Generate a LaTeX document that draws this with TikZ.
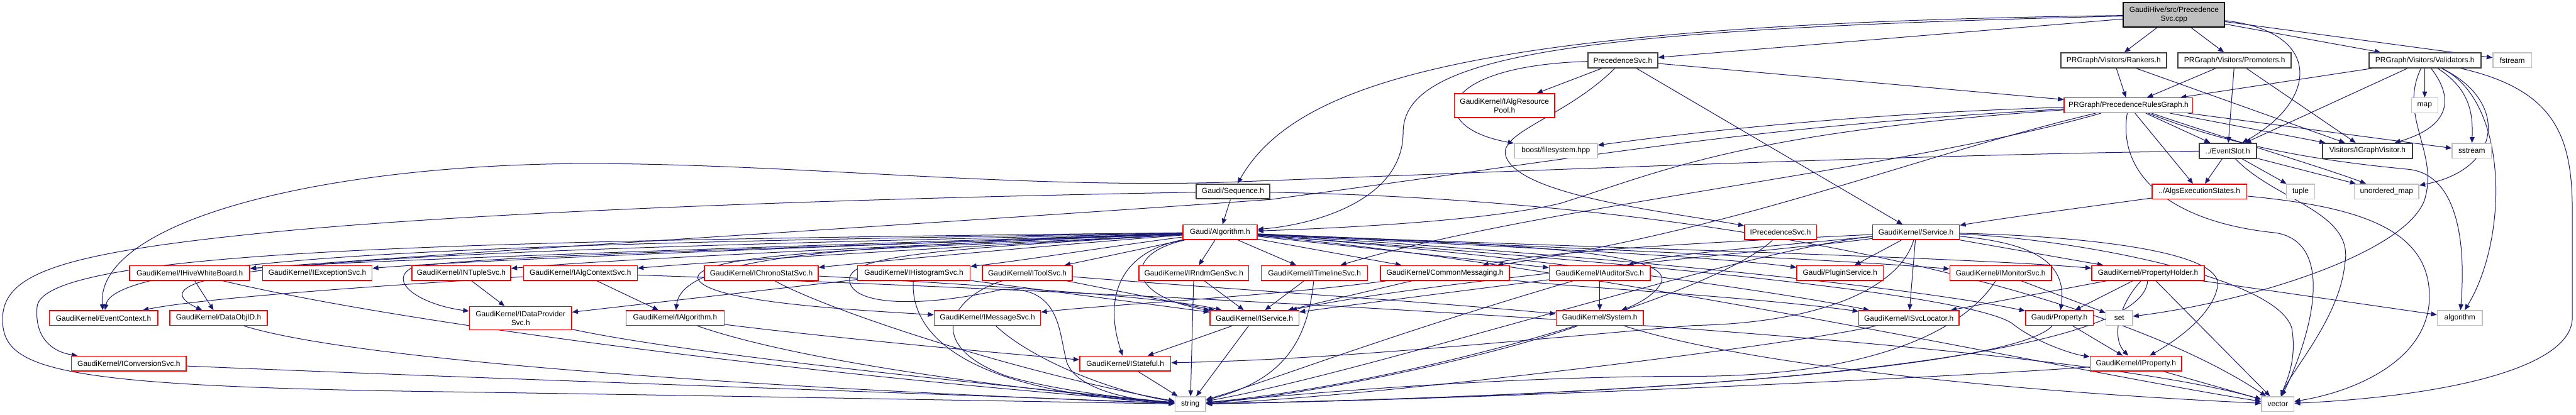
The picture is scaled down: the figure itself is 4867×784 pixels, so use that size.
\documentclass[tikz,border=0pt]{standalone}
\usepackage{fontspec}
\setmainfont{Liberation Sans}
\usetikzlibrary{arrows.meta,backgrounds}
\definecolor{edgec}{HTML}{191970}
\definecolor{redb}{HTML}{FF0000}
\definecolor{grayb}{HTML}{BFBFBF}
\definecolor{blackb}{HTML}{404040}
\definecolor{rootf}{HTML}{BFBFBF}
\newcommand{\nodefont}{\fontsize{7.1pt}{8.4pt}\selectfont}
\begin{document}
\begin{tikzpicture}[x=0.5pt,y=-0.5pt,
  nd/.style={fill=white, line width=0.9pt, minimum height=14pt, inner sep=0pt, align=center, font=\nodefont},
  rbox/.style={nd, draw=redb},
  kbox/.style={nd, draw=blackb, line width=1.2pt},
  gbox/.style={nd, draw=grayb},
  rootbox/.style={nd, draw=black, line width=1.2pt, fill=rootf},
  e/.style={draw=edgec, line width=0.6pt, -{Triangle[length=5.5pt,width=4.5pt]}}]
\useasboundingbox (0,0) rectangle (4867,784);
% ---------------- nodes ----------------
\node[rootbox, minimum width=95.5pt, minimum height=23pt] (root) at (4107.5,28) {GaudiHive/src/Precedence\\Svc.cpp};
\node[kbox, minimum width=66pt] (psvch) at (3066,114) {PrecedenceSvc.h};
\node[kbox, minimum width=99.5pt] (rank) at (3993.5,114) {PRGraph/Visitors/Rankers.h};
\node[kbox, minimum width=107pt] (prom) at (4222,114) {PRGraph/Visitors/Promoters.h};
\node[kbox, minimum width=105.5pt] (valid) at (4581.5,114) {PRGraph/Visitors/Validators.h};
\node[gbox, minimum width=36.5pt] (fstr) at (4746.5,114) {fstream};
\node[rbox, minimum width=94.5pt, minimum height=22.5pt] (iarp) at (2842.5,199.5) {GaudiKernel/IAlgResource\\Pool.h};
\node[rbox, minimum width=121.5pt] (prg) at (4021.5,199) {PRGraph/PrecedenceRulesGraph.h};
\node[gbox, minimum width=25pt] (map) at (4581,199) {map};
\node[gbox, minimum width=78.5pt] (boost) at (2939.5,285) {boost/filesystem.hpp};
\node[kbox, minimum width=54pt] (evs) at (4209,285) {../EventSlot.h};
\node[kbox, minimum width=85pt] (igv) at (4473,285) {Visitors/IGraphVisitor.h};
\node[gbox, minimum width=37pt] (sstr) at (4670,285) {sstream};
\node[kbox, minimum width=69.5pt] (seq) at (2329.5,362) {Gaudi/Sequence.h};
\node[rbox, minimum width=89.5pt] (aes) at (4155.5,362) {../AlgsExecutionStates.h};
\node[gbox, minimum width=26.5pt] (tup) at (4346.5,362) {tuple};
\node[gbox, minimum width=61pt] (umap) at (4509,362) {unordered\_map};
\node[rbox, minimum width=70pt] (alg) at (2305,439) {Gaudi/Algorithm.h};
\node[rbox, minimum width=68pt] (iprec) at (3364,439) {IPrecedenceSvc.h};
\node[rbox, minimum width=82pt] (svc) at (3620,439) {GaudiKernel/Service.h};
\node[rbox, minimum width=113.5pt] (ihwb) at (358.5,516) {GaudiKernel/IHiveWhiteBoard.h};
\node[rbox, minimum width=103.5pt] (iexc) at (599.5,516) {GaudiKernel/IExceptionSvc.h};
\node[rbox, minimum width=93.5pt] (intup) at (871.5,516) {GaudiKernel/INTupleSvc.h};
\node[rbox, minimum width=107.5pt] (iacs) at (1096.5,516) {GaudiKernel/IAlgContextSvc.h};
\node[rbox, minimum width=107.5pt] (icss) at (1438.5,516) {GaudiKernel/IChronoStatSvc.h};
\node[rbox, minimum width=106.5pt] (ihist) at (1726.5,516) {GaudiKernel/IHistogramSvc.h};
\node[rbox, minimum width=85pt] (itool) at (1941,516) {GaudiKernel/IToolSvc.h};
\node[rbox, minimum width=103.5pt] (irndm) at (2255.5,516) {GaudiKernel/IRndmGenSvc.h};
\node[rbox, minimum width=100.5pt] (itl) at (2483.5,516) {GaudiKernel/ITimelineSvc.h};
\node[rbox, minimum width=122pt] (cmsg) at (2730,516) {GaudiKernel/CommonMessaging.h};
\node[rbox, minimum width=95.5pt] (iaud) at (3022.5,516) {GaudiKernel/IAuditorSvc.h};
\node[rbox, minimum width=81.5pt] (plug) at (3476.5,516) {Gaudi/PluginService.h};
\node[rbox, minimum width=96pt] (imon) at (3780,516) {GaudiKernel/IMonitorSvc.h};
\node[rbox, minimum width=106.5pt] (phold) at (4058.5,516) {GaudiKernel/PropertyHolder.h};
\node[rbox, minimum width=102.5pt] (evc) at (195.5,601) {GaudiKernel/EventContext.h};
\node[rbox, minimum width=92pt] (doid) at (413,601) {GaudiKernel/DataObjID.h};
\node[rbox, minimum width=96.5pt, minimum height=22pt] (idps) at (983.5,601) {GaudiKernel/IDataProvider\\Svc.h};
\node[rbox, minimum width=92.5pt] (ialgo) at (1275.5,601) {GaudiKernel/IAlgorithm.h};
\node[rbox, minimum width=100.5pt] (imsg) at (1865.5,601) {GaudiKernel/IMessageSvc.h};
\node[rbox, minimum width=84pt] (isvc) at (2370,601) {GaudiKernel/IService.h};
\node[rbox, minimum width=82.5pt] (sys) at (3022.5,601) {GaudiKernel/System.h};
\node[rbox, minimum width=94.5pt] (isl) at (3606.5,601) {GaudiKernel/ISvcLocator.h};
\node[rbox, minimum width=64pt] (prop) at (3891,601) {Gaudi/Property.h};
\node[gbox, minimum width=25pt] (setn) at (4004,601) {set};
\node[gbox, minimum width=42.5pt] (algo) at (4647.5,601) {algorithm};
\node[rbox, minimum width=108.5pt] (iconv) at (243.5,687) {GaudiKernel/IConversionSvc.h};
\node[rbox, minimum width=86pt] (istat) at (2126,687) {GaudiKernel/IStateful.h};
\node[rbox, minimum width=86.5pt] (iprop) at (4035.5,687) {GaudiKernel/IProperty.h};
\node[gbox, minimum width=29pt] (str) at (2249,763.5) {string};
\node[gbox, minimum width=30.5pt] (vec) at (4303.5,763.5) {vector};
% ---------------- edges ----------------
\begin{scope}[on background layer]
% root
\draw[e] (root) -- (psvch);
\draw[e] (root) .. controls (2800,45) and (2450,150) .. (seq);
\draw[e] (root) .. controls (3000,55) and (2651,100) .. (2651,250) .. controls (2651,380) and (2480,425) .. (alg);
\draw[e] (root) -- (rank);
\draw[e] (root) -- (prom);
\draw[e] (root) .. controls (4390,60) and (4380,190) .. (evs);
\draw[e] (root) -- (valid);
\draw[e] (root) -- (fstr);
% PrecedenceSvc.h
\draw[e] (psvch) -- (prg);
\draw[e] (psvch) -- (iarp);
\draw[e] (psvch) .. controls (2710,125) and (2690,240) .. (boost);
\draw[e] (psvch) .. controls (2960,220) and (2830,250) .. (2845,295) .. controls (2870,370) and (3150,400) .. (iprec);
\draw[e] (psvch) -- (svc);
% Rankers / Promoters
\draw[e] (rank) -- (prg);
\draw[e] (rank) -- (igv);
\draw[e] (prom) -- (prg);
\draw[e] (prom) -- (evs);
\draw[e] (prom) -- (igv);
% Validators
\draw[e] (valid) -- (prg);
\draw[e] (valid) -- (evs);
\draw[e] (valid) -- (map);
\draw[e] (valid) .. controls (4640,190) and (4625,240) .. (igv);
\draw[e] (valid) .. controls (4670,170) and (4672,220) .. (sstr);
\draw[e] (valid) .. controls (4740,190) and (4730,320) .. (umap);
\draw[e] (valid) .. controls (4530,220) and (4610,290) .. (4580,380) .. controls (4540,480) and (4250,570) .. (setn);
\draw[e] (valid) .. controls (4740,190) and (4740,450) .. (algo);
\draw[e] (valid) .. controls (4830,170) and (4860,260) .. (4860,400) -- (4860,600) .. controls (4860,700) and (4600,750) .. (vec);
% PrecedenceRulesGraph.h
\draw[e] (prg) .. controls (3500,215) and (3200,250) .. (boost);
\draw[e] (prg) .. controls (3300,240) and (3050,290) .. (2400,377) .. controls (1800,420) and (900,475) .. (ihwb);
\draw[e] (prg) .. controls (3300,250) and (3150,320) .. (2949,384) .. controls (2800,420) and (2500,432) .. (alg);
\draw[e] (prg) .. controls (3600,320) and (2900,390) .. (itl);
\draw[e] (prg) .. controls (3600,300) and (3300,430) .. (cmsg);
\draw[e] (prg) -- (evs);
\draw[e] (prg) -- (igv);
\draw[e] (prg) -- (aes);
\draw[e] (prg) .. controls (4200,260) and (4400,320) .. (umap);
\draw[e] (prg) -- (sstr);
\draw[e] (prg) .. controls (4250,290) and (4450,310) .. (4551,320) .. controls (4640,330) and (4660,450) .. (algo);
\draw[e] (prg) .. controls (4000,330) and (4100,420) .. (4300,440) .. controls (4420,460) and (4360,650) .. (vec);
% EventSlot.h
\draw[e] (evs) -- (aes);
\draw[e] (evs) -- (tup);
\draw[e] (evs) -- (umap);
\draw[e] (evs) .. controls (3600,292) and (2700,330) .. (2300,345) .. controls (1900,355) and (1500,310) .. (1114,309) .. controls (600,310) and (180,420) .. (evc);
\draw[e] (evs) .. controls (4300,380) and (4450,400) .. (4430,500) .. controls (4420,600) and (4330,700) .. (vec);
% AlgsExecutionStates.h
\draw[e] (aes) .. controls (3950,390) and (3800,410) .. (svc);
\draw[e] (aes) .. controls (4450,390) and (4590,430) .. (4590,560) .. controls (4590,680) and (4450,740) .. (vec);
% Sequence.h
\draw[e] (seq) -- (alg);
\draw[e] (seq) .. controls (1600,375) and (900,400) .. (500,440) .. controls (100,480) and (0,520) .. (5,610) .. controls (10,700) and (120,730) .. (820,740) .. controls (1500,750) and (2000,760) .. (str);
\draw[e] (seq) .. controls (3300,380) and (4000,560) .. (vec);
% Gaudi/Algorithm.h
\draw[e] (alg) .. controls (1800,455) and (700,490) .. (ihwb);
\draw[e] (alg) .. controls (1800,457) and (900,490) .. (iexc);
\draw[e] (alg) .. controls (1800,460) and (1150,490) .. (intup);
\draw[e] (alg) .. controls (1900,462) and (1400,490) .. (iacs);
\draw[e] (alg) .. controls (2000,462) and (1700,490) .. (icss);
\draw[e] (alg) .. controls (2100,465) and (1950,490) .. (ihist);
\draw[e] (alg) -- (itool);
\draw[e] (alg) -- (irndm);
\draw[e] (alg) -- (itl);
\draw[e] (alg) -- (cmsg);
\draw[e] (alg) -- (iaud);
\draw[e] (alg) .. controls (2700,460) and (3200,480) .. (plug);
\draw[e] (alg) .. controls (2800,462) and (3400,485) .. (imon);
\draw[e] (alg) .. controls (2900,465) and (3700,485) .. (phold);
\draw[e] (alg) .. controls (1200,458) and (220,470) .. (evc);
\draw[e] (alg) .. controls (1000,470) and (180,490) .. (doid);
\draw[e] (alg) .. controls (900,455) and (80,470) .. (70,580) .. controls (65,640) and (100,665) .. (iconv);
\draw[e] (alg) .. controls (1500,470) and (900,482) .. (780,505) .. controls (730,530) and (790,575) .. (idps);
\draw[e] (alg) .. controls (1700,465) and (1290,470) .. (ialgo);
\draw[e] (alg) .. controls (1800,468) and (1320,470) .. (1318,525) .. controls (1330,570) and (1600,585) .. (imsg);
\draw[e] (alg) .. controls (2120,480) and (2130,560) .. (isvc);
\draw[e] (alg) .. controls (2100,480) and (2090,580) .. (istat);
\draw[e] (alg) .. controls (1800,470) and (1600,480) .. (1605,530) .. controls (1610,580) and (1750,580) .. (1893,547) .. controls (2000,540) and (2000,620) .. (2013,674) .. controls (2020,730) and (2120,755) .. (str);
\draw[e] (alg) .. controls (2800,475) and (3300,540) .. (isl);
\draw[e] (alg) .. controls (2800,460) and (3150,470) .. (3140,530) .. controls (3130,560) and (3080,580) .. (sys);
\draw[e] (alg) .. controls (3000,480) and (3600,540) .. (prop);
\draw[e] (alg) .. controls (3000,490) and (3700,550) .. (3800,610) .. controls (3850,650) and (3920,670) .. (iprop);
\draw[e] (alg) .. controls (3000,500) and (3900,700) .. (vec);
% GaudiKernel interfaces
\draw[e] (ihwb) -- (doid);
\draw[e] (ihwb) .. controls (800,620) and (1600,715) .. (str);
\draw[e] (doid) .. controls (700,690) and (1600,740) .. (str);
\draw[e] (iconv) .. controls (900,715) and (1800,745) .. (str);
\draw[e] (intup) -- (idps);
\draw[e] (iacs) -- (ialgo);
\draw[e] (iacs) .. controls (800,535) and (400,560) .. (evc);
\draw[e] (iacs) .. controls (1800,540) and (3800,620) .. (vec);
\draw[e] (icss) .. controls (1550,580) and (1900,700) .. (str);
\draw[e] (icss) .. controls (1800,535) and (2200,560) .. (isvc);
\draw[e] (idps) .. controls (1300,670) and (1900,730) .. (str);
\draw[e] (ialgo) .. controls (1500,680) and (1900,735) .. (str);
\draw[e] (ialgo) .. controls (1500,630) and (1800,660) .. (istat);
\draw[e] (ihist) -- (idps);
\draw[e] (ihist) .. controls (1720,620) and (1800,740) .. (str);
\draw[e] (ihist) -- (isvc);
\draw[e] (itool) .. controls (1800,560) and (1740,650) .. (1900,710) .. controls (2000,740) and (2150,755) .. (str);
\draw[e] (itool) -- (isvc);
\draw[e] (itool) .. controls (2300,545) and (2700,570) .. (sys);
\draw[e] (irndm) -- (str);
\draw[e] (irndm) -- (isvc);
\draw[e] (itl) -- (isvc);
\draw[e] (itl) .. controls (2470,650) and (2420,720) .. (str);
\draw[e] (cmsg) -- (isvc);
\draw[e] (cmsg) .. controls (2400,560) and (2100,575) .. (imsg);
\draw[e] (cmsg) .. controls (3000,545) and (3300,560) .. (isl);
\draw[e] (iaud) -- (sys);
\draw[e] (iaud) .. controls (2800,545) and (2600,570) .. (isvc);
\draw[e] (iaud) .. controls (2600,640) and (2400,720) .. (str);
\draw[e] (sys) .. controls (2800,680) and (2450,750) .. (str);
\draw[e] (sys) .. controls (3300,690) and (3800,740) .. (vec);
\draw[e] (imsg) .. controls (1950,680) and (2100,740) .. (str);
\draw[e] (isvc) -- (istat);
\draw[e] (isvc) -- (str);
\draw[e] (istat) -- (str);
\draw[e] (iprec) .. controls (3250,550) and (2700,720) .. (str);
% Service.h
\draw[e] (svc) -- (plug);
\draw[e] (svc) -- (isl);
\draw[e] (svc) .. controls (3850,460) and (3905,500) .. (prop);
\draw[e] (svc) -- (phold);
\draw[e] (svc) .. controls (3400,470) and (2700,530) .. (isvc);
\draw[e] (svc) .. controls (3300,470) and (3150,480) .. (iaud);
\draw[e] (svc) .. controls (3300,455) and (2950,470) .. (cmsg);
\draw[e] (svc) .. controls (3590,540) and (3450,610) .. (3200,615) .. controls (2800,650) and (2500,680) .. (istat);
\draw[e] (svc) .. controls (3900,445) and (4200,470) .. (4190,540) .. controls (4180,600) and (4100,650) .. (iprop);
\draw[e] (svc) .. controls (3900,450) and (4300,520) .. (4330,620) .. controls (4340,680) and (4320,720) .. (vec);
\draw[e] (svc) .. controls (3300,470) and (2600,700) .. (str);
% IMonitorSvc, PropertyHolder, Property, IProperty, ISvcLocator
\draw[e] (imon) .. controls (3700,640) and (3500,711) .. (3200,711) .. controls (2800,711) and (2400,750) .. (str);
\draw[e] (imon) -- (setn);
\draw[e] (phold) -- (isl);
\draw[e] (phold) -- (prop);
\draw[e] (phold) .. controls (4000,580) and (3990,640) .. (iprop);
\draw[e] (phold) -- (algo);
\draw[e] (phold) -- (vec);
\draw[e] (phold) .. controls (4050,650) and (3500,740) .. (str);
\draw[e] (prop) -- (iprop);
\draw[e] (prop) .. controls (3800,700) and (3000,750) .. (str);
\draw[e] (iprop) -- (vec);
\draw[e] (iprop) .. controls (3700,712) and (2800,755) .. (str);
\draw[e] (isl) .. controls (3400,650) and (2600,750) .. (str);
\end{scope}
\end{tikzpicture}
\end{document}
